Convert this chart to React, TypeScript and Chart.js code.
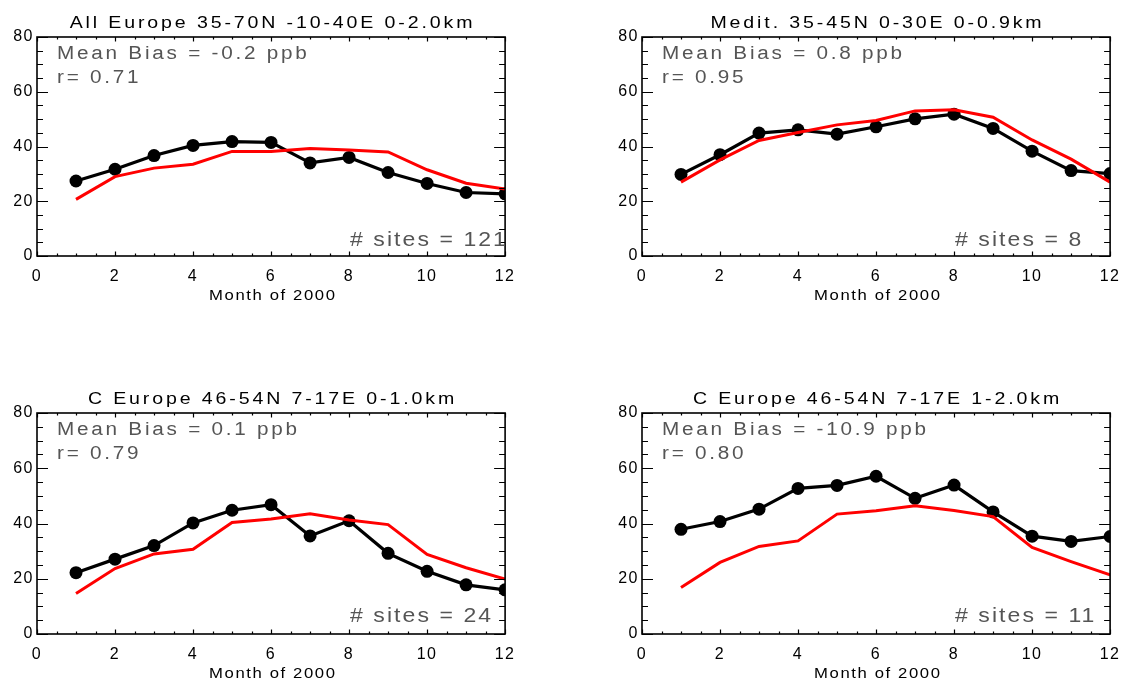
import React, { useEffect, useRef } from "react";
import { Chart, registerables } from "chart.js";

Chart.register(...registerables);

// ---------- data ----------
const months = [1, 2, 3, 4, 5, 6, 7, 8, 9, 10, 11, 12];
const xTickValues = [0, 2, 4, 6, 8, 10, 12];
const yTickValues = [0, 20, 40, 60, 80];

const allEuropeObs = [27.4, 31.7, 36.7, 40.4, 41.8, 41.5, 34.0, 36.0, 30.5, 26.5, 23.2, 22.7];
const allEuropeModel = [20.7, 29.0, 32.1, 33.5, 38.2, 38.2, 39.3, 38.7, 38.0, 31.5, 26.6, 24.5];

const meditObs = [29.8, 37.0, 44.9, 46.1, 44.5, 47.2, 50.1, 51.8, 46.6, 38.3, 31.2, 30.1];
const meditModel = [27.0, 35.1, 42.2, 45.1, 47.9, 49.5, 53.0, 53.4, 50.7, 42.4, 35.4, 27.0];

const cEuropeLowObs = [22.2, 27.1, 32.0, 40.2, 44.8, 46.8, 35.5, 41.0, 29.2, 22.7, 17.8, 16.0];
const cEuropeLowModel = [14.7, 23.7, 29.0, 30.7, 40.4, 41.6, 43.5, 41.3, 39.6, 28.8, 24.0, 19.9];

const cEuropeHighObs = [37.9, 40.7, 45.2, 52.7, 53.8, 57.1, 49.1, 53.9, 44.2, 35.4, 33.5, 35.3];
const cEuropeHighModel = [16.8, 25.9, 31.7, 33.7, 43.4, 44.6, 46.4, 44.7, 42.5, 31.3, 26.2, 21.4];

const panelTitles = [
  "All Europe 35-70N -10-40E 0-2.0km",
  "Medit. 35-45N 0-30E 0-0.9km",
  "C Europe 46-54N 7-17E 0-1.0km",
  "C Europe 46-54N 7-17E 1-2.0km",
];
const meanBiasLabels = [
  "Mean Bias = -0.2 ppb",
  "Mean Bias = 0.8 ppb",
  "Mean Bias = 0.1 ppb",
  "Mean Bias = -10.9 ppb",
];
const rLabels = ["r= 0.71", "r= 0.95", "r= 0.79", "r= 0.80"];
const siteLabels = ["# sites = 121", "# sites = 8", "# sites = 24", "# sites = 11"];
const xAxisLabel = "Month of 2000";

const obsSeries = [allEuropeObs, meditObs, cEuropeLowObs, cEuropeHighObs];
const modelSeries = [allEuropeModel, meditModel, cEuropeLowModel, cEuropeHighModel];

// ---------- layout (styles) ----------
const FONT = "'Liberation Sans', Arial, Helvetica, sans-serif";
const Y_AXIS_W = 37;
const X_AXIS_H = 30;
const STRETCH = 1.15;
const panelBoxes = [
  { left: 37, top: 37, w: 469, h: 219, canvasH: 310 },
  { left: 642, top: 37, w: 469, h: 219, canvasH: 310 },
  { left: 37, top: 413, w: 469, h: 221, canvasH: 304 },
  { left: 642, top: 413, w: 469, h: 221, canvasH: 304 },
];
const CANVAS_W = 525;

function drawSpaced(
  ctx: CanvasRenderingContext2D,
  text: string,
  x: number,
  y: number,
  size: number,
  ls: number,
  align: "left" | "center",
  color: string
) {
  ctx.save();
  ctx.font = `${size}px ${FONT}`;
  (ctx as any).letterSpacing = `${ls}px`;
  ctx.fillStyle = color;
  ctx.textBaseline = "alphabetic";
  ctx.textAlign = "left";
  const w = (ctx.measureText(text).width - ls) * STRETCH;
  const sx = align === "center" ? x - w / 2 : x;
  ctx.translate(sx, y);
  ctx.scale(STRETCH, 1);
  ctx.fillText(text, 0, 0);
  ctx.restore();
}

const decorPlugin = {
  id: "decor",
  beforeDraw(chart: any) {
    (chart.ctx as any).letterSpacing = "1.5px";
  },
  afterDraw(chart: any, _args: any, opts: any) {
    const { ctx, chartArea: a, scales } = chart;
    const x = scales.x;
    const y = scales.y;
    ctx.save();
    (ctx as any).letterSpacing = "0px";
    // ticks (inward, on all four sides)
    ctx.strokeStyle = "#000";
    ctx.lineWidth = 1.2;
    ctx.beginPath();
    for (let v = 0; v <= 12.0001; v += 0.5) {
      const px = Math.round(x.getPixelForValue(v)) + 0.5;
      const len = Math.abs(v % 2) < 1e-6 ? 4.5 : 2.5;
      ctx.moveTo(px, a.bottom);
      ctx.lineTo(px, a.bottom - len);
      ctx.moveTo(px, a.top);
      ctx.lineTo(px, a.top + len);
    }
    for (let v = 0; v <= 80.0001; v += 5) {
      const py = Math.round(y.getPixelForValue(v)) + 0.5;
      const len = Math.abs(v % 20) < 1e-6 ? 11 : 6;
      ctx.moveTo(a.left, py);
      ctx.lineTo(a.left + len, py);
      ctx.moveTo(a.right, py);
      ctx.lineTo(a.right - len, py);
    }
    ctx.stroke();
    // box
    ctx.lineWidth = 1.6;
    ctx.strokeRect(a.left, a.top, a.right - a.left, a.bottom - a.top);

    const cx = (a.left + a.right) / 2;
    drawSpaced(ctx, opts.title, cx, a.top - 9.5, 17, 2.5, "center", "#000");
    drawSpaced(ctx, opts.mean, a.left + 20, a.top + 22, 18, 2.4, "left", "#555");
    drawSpaced(ctx, opts.r, a.left + 20, a.top + 45.5, 18, 2.4, "left", "#555");
    drawSpaced(ctx, opts.sites, a.left + 313, a.top + 208.5, 20, 1.8, "left", "#555");
    drawSpaced(ctx, opts.xLabel, cx + 1, a.bottom + 43.5, 14.5, 1.4, "center", "#000");
    ctx.restore();
  },
};

function Panel({ index }: { index: number }) {
  const ref = useRef<HTMLCanvasElement>(null);
  const box = panelBoxes[index];
  const canvasLeft = box.left - Y_AXIS_W;
  const canvasTop = box.top - 37;

  useEffect(() => {
    const obs = obsSeries[index].map((v, i) => ({ x: months[i], y: v }));
    const model = modelSeries[index].map((v, i) => ({ x: months[i], y: v }));
    const chart = new Chart(ref.current as HTMLCanvasElement, {
      type: "line",
      data: {
        datasets: [
          {
            label: "Model",
            data: model,
            borderColor: "#ff0000",
            borderWidth: 3,
            pointRadius: 0,
            fill: false,
            tension: 0,
            clip: 0,
            order: 0,
          },
          {
            label: "Observed",
            data: obs,
            borderColor: "#000000",
            borderWidth: 3.2,
            pointRadius: 6.5,
            pointBackgroundColor: "#000000",
            pointBorderWidth: 0,
            fill: false,
            tension: 0,
            clip: 0,
            order: 1,
          },
        ],
      } as any,
      options: {
        animation: false,
        responsive: false,
        events: [],
        layout: {
          padding: {
            left: 0,
            top: 37,
            right: CANVAS_W - Y_AXIS_W - box.w,
            bottom: box.canvasH - 37 - box.h - X_AXIS_H,
          },
        },
        plugins: {
          legend: { display: false },
          title: { display: false },
          tooltip: { enabled: false },
          decor: {
            title: panelTitles[index],
            mean: meanBiasLabels[index],
            r: rLabels[index],
            sites: siteLabels[index],
            xLabel: xAxisLabel,
          },
        } as any,
        scales: {
          x: {
            type: "linear",
            min: 0,
            max: 12,
            grid: { display: false, drawTicks: false },
            border: { display: false },
            afterBuildTicks: (s: any) => {
              s.ticks = xTickValues.map((v) => ({ value: v }));
            },
            afterFit: (s: any) => {
              s.height = X_AXIS_H;
            },
            ticks: {
              autoSkip: false,
              maxRotation: 0,
              padding: 11,
              color: "#000",
              font: { family: FONT, size: 16 },
            },
          },
          y: {
            type: "linear",
            min: 0,
            max: 80,
            grid: { display: false, drawTicks: false },
            border: { display: false },
            afterBuildTicks: (s: any) => {
              s.ticks = yTickValues.map((v) => ({ value: v }));
            },
            afterFit: (s: any) => {
              s.width = Y_AXIS_W;
            },
            ticks: {
              padding: 3,
              color: "#000",
              font: { family: FONT, size: 16 },
            },
          },
        },
      },
      plugins: [decorPlugin as any],
    });
    return () => chart.destroy();
  }, [index]);

  return (
    <canvas
      ref={ref}
      width={CANVAS_W}
      height={box.canvasH}
      style={{
        position: "absolute",
        left: canvasLeft,
        top: canvasTop,
        width: CANVAS_W,
        height: box.canvasH,
      }}
    />
  );
}

export default function App() {
  return (
    <div
      style={{
        position: "absolute",
        left: 0,
        top: 0,
        width: 1130,
        height: 680,
        overflow: "hidden",
        background: "#fff",
      }}
    >
      {[0, 1, 2, 3].map((i) => (
        <Panel key={i} index={i} />
      ))}
    </div>
  );
}
